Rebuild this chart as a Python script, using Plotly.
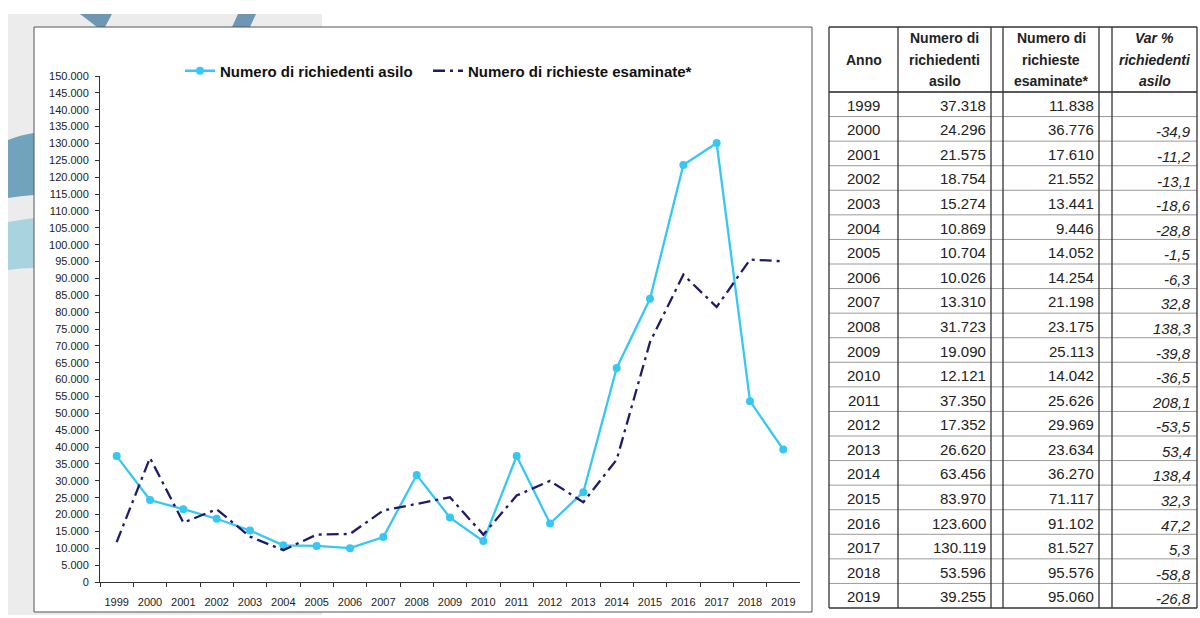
import plotly.graph_objects as go

W, H = 1200, 618

anni = [str(y) for y in range(1999, 2020)]
richiedenti = [37318, 24296, 21575, 18754, 15274, 10869, 10704, 10026, 13310, 31723,
               19090, 12121, 37350, 17352, 26620, 63456, 83970, 123600, 130119, 53596, 39255]
esaminate = [11838, 36776, 17610, 21552, 13441, 9446, 14052, 14254, 21198, 23175,
             25113, 14042, 25626, 29969, 23634, 36270, 71117, 91102, 81527, 95576, 95060]
var_pct = [None, -34.9, -11.2, -13.1, -18.6, -28.8, -1.5, -6.3, 32.8, 138.3,
           -39.8, -36.5, 208.1, -53.5, 53.4, 138.4, 32.3, 47.2, 5.3, -58.8, -26.8]

name1 = "Numero di richiedenti asilo"
name2 = "Numero di richieste esaminate*"
header_anno = ["Anno"]
header_rich = ["Numero di", "richiedenti", "asilo"]
header_esam = ["Numero di", "richieste", "esaminate*"]
header_var = ["Var %", "richiedenti", "asilo"]

FONT = "Liberation Sans, Arial, sans-serif"


def px(x):
    return x / W


def py(y):
    return 1 - y / H


def thou(v):
    return f"{v:,}".replace(",", ".")


def pct(v):
    return "" if v is None else f"{v:.1f}".replace(".", ",")


fig = go.Figure()

fig.add_trace(go.Scatter(
    x=anni, y=richiedenti, name=name1, mode="lines+markers",
    line=dict(color="#36c8f2", width=2.3),
    marker=dict(color="#36c8f2", size=8, symbol="circle"),
    legend="legend",
))
fig.add_trace(go.Scatter(
    x=anni, y=esaminate, name=name2, mode="lines",
    line=dict(color="#1e1b6b", width=2.3, dash="12px,5px,3px,5px"),
    legend="legend2",
))

shapes = [
    # gray background panel
    dict(type="rect", xref="paper", yref="paper", x0=px(8), x1=px(322), y0=py(615), y1=py(14),
         fillcolor="#ececec", line=dict(width=0), layer="below"),
    # decorative blue shapes
    dict(type="path", xref="paper", yref="paper",
         path=f"M {px(80)},{py(14)} L {px(112)},{py(14)} L {px(105)},{py(27)} L {px(97)},{py(27)} Z",
         fillcolor="#6f97b3", line=dict(width=0), layer="below"),
    dict(type="path", xref="paper", yref="paper",
         path=f"M {px(238)},{py(14)} L {px(256)},{py(14)} L {px(250)},{py(27)} L {px(232)},{py(27)} Z",
         fillcolor="#6f97b3", line=dict(width=0), layer="below"),
    dict(type="path", xref="paper", yref="paper",
         path=f"M {px(8)},{py(140)} Q {px(20)},{py(135)} {px(34)},{py(133)} L {px(34)},{py(195)} Q {px(20)},{py(196)} {px(8)},{py(198)} Z",
         fillcolor="#72a3bd", line=dict(width=0), layer="below"),
    dict(type="path", xref="paper", yref="paper",
         path=f"M {px(8)},{py(222)} Q {px(20)},{py(220)} {px(34)},{py(218)} L {px(34)},{py(268)} Q {px(20)},{py(268)} {px(8)},{py(270)} Z",
         fillcolor="#a9d3df", line=dict(width=0), layer="below"),
    # chart box
    dict(type="rect", xref="paper", yref="paper", x0=px(34), x1=px(812), y0=py(612), y1=py(27),
         fillcolor="white", line=dict(color="#555", width=1), layer="below"),
]

annotations = []

# ---- table geometry ----
col_x = [829, 898, 991, 1003, 1099, 1112, 1197]
tab_top, head_bot, tab_bot = 27, 92, 608
n_rows = len(anni)
row_h = (tab_bot - head_bot) / n_rows

shapes.append(dict(type="rect", xref="paper", yref="paper", x0=px(col_x[0]), x1=px(col_x[-1]),
                   y0=py(tab_bot), y1=py(tab_top), fillcolor="white", line=dict(width=0)))
for i in range(1, n_rows):
    yy = head_bot + i * row_h
    shapes.append(dict(type="line", xref="paper", yref="paper", x0=px(col_x[0]), x1=px(col_x[-1]),
                       y0=py(yy), y1=py(yy), line=dict(color="#9a9a9a", width=1)))
shapes.append(dict(type="line", xref="paper", yref="paper", x0=px(col_x[0]), x1=px(col_x[-1]),
                   y0=py(head_bot), y1=py(head_bot), line=dict(color="#222", width=1.5)))
for cx in col_x:
    shapes.append(dict(type="line", xref="paper", yref="paper", x0=px(cx), x1=px(cx),
                       y0=py(tab_top), y1=py(tab_bot), line=dict(color="#333", width=1.3)))
for yy in (tab_top, tab_bot):
    shapes.append(dict(type="line", xref="paper", yref="paper", x0=px(col_x[0]), x1=px(col_x[-1]),
                       y0=py(yy), y1=py(yy), line=dict(color="#333", width=1.3)))


def ann(text, x, y, anchor, size, bold=False, italic=False):
    t = text
    if italic:
        t = f"<i>{t}</i>"
    if bold:
        t = f"<b>{t}</b>"
    annotations.append(dict(text=t, x=px(x), y=py(y), xref="paper", yref="paper",
                            xanchor=anchor, yanchor="middle", showarrow=False,
                            font=dict(family=FONT, size=size, color="#222")))


head_mid = (tab_top + head_bot) / 2
spacing = 21.5
for ci, lines, italic in [(0, header_anno, False), (1, header_rich, False),
                          (3, header_esam, False), (5, header_var, True)]:
    cx = (col_x[ci] + col_x[ci + 1]) / 2
    n = len(lines)
    for li, line in enumerate(lines):
        yy = head_mid + (li - (n - 1) / 2) * spacing
        ann(line, cx, yy, "center", 14, bold=True, italic=italic)

for i in range(n_rows):
    yy = head_bot + (i + 0.5) * row_h + 1
    ann(anni[i], (col_x[0] + col_x[1]) / 2, yy, "center", 15)
    ann(thou(richiedenti[i]), col_x[2] - 3, yy, "right", 15)
    ann(thou(esaminate[i]), col_x[4] - 3, yy, "right", 15)
    if var_pct[i] is not None:
        ann(pct(var_pct[i]), col_x[6] - 4, yy + 2, "right", 15, italic=True)

legend_common = dict(orientation="h", xanchor="left", yanchor="middle", y=py(71),
                     font=dict(size=15, color="#111", family=FONT, weight="bold"),
                     bgcolor="rgba(0,0,0,0)")

fig.update_layout(
    width=W, height=H,
    margin=dict(l=0, r=0, t=0, b=0, autoexpand=False),
    paper_bgcolor="white", plot_bgcolor="rgba(0,0,0,0)",
    separators=",.",
    font=dict(family=FONT, color="#222"),
    shapes=shapes,
    annotations=annotations,
    showlegend=True,
    legend=dict(x=px(180), **legend_common),
    legend2=dict(x=px(428), **legend_common),
    xaxis=dict(domain=[px(100), px(800)], type="category", range=[-0.5, 20.5],
               showgrid=False, zeroline=False, showline=True, linecolor="#333", linewidth=1,
               ticks="outside", ticklen=4, tickcolor="#333", tickson="boundaries",
               ticklabelstandoff=10, automargin=False, tickangle=0,
               tickfont=dict(size=11, color="#222"), anchor="y"),
    yaxis=dict(domain=[py(582), py(76)], range=[0, 150000], dtick=5000, tickformat=",d",
               showgrid=False, zeroline=False, showline=True, linecolor="#333", linewidth=1,
               ticks="outside", ticklen=4, tickcolor="#333", ticklabelstandoff=4,
               automargin=False,
               tickfont=dict(size=11, color="#222"), anchor="x"),
)

fig.write_html("out.html")
